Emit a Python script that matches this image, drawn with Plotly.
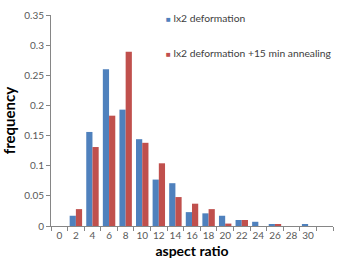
import plotly.graph_objects as go

categories = ["0", "2", "4", "6", "8", "10", "12", "14", "16", "18", "20", "22", "24", "26", "28", "30", "32"]
tick_labels = ["0", "2", "4", "6", "8", "10", "12", "14", "16", "18", "20", "22", "24", "26", "28", "30", ""]
deform = [0, 0.017, 0.156, 0.260, 0.193, 0.144, 0.077, 0.071, 0.023, 0.021, 0.017, 0.010, 0.007, 0.003, 0, 0.003, 0]
anneal = [0, 0.028, 0.131, 0.183, 0.289, 0.138, 0.104, 0.048, 0.037, 0.028, 0.004, 0.010, 0, 0.003, 0, 0, 0]
names = ["lx2 deformation", "lx2 deformation +15 min annealing"]
colors = ["#4F81BD", "#C0504D"]

FONT = "Lato, 'Open Sans', sans-serif"

fig = go.Figure()
for vals, name, col in zip([deform, anneal], names, colors):
    fig.add_trace(go.Bar(x=categories, y=vals, name=name, marker_color=col,
                         marker_line_width=0, showlegend=False))

fig.update_layout(
    width=341, height=270,
    margin=dict(l=47, r=8, t=8, b=44),
    paper_bgcolor="white", plot_bgcolor="white",
    barmode="group", bargap=0.25, bargroupgap=0,
    font=dict(family=FONT, size=10, color="#595959"),
)
fig.update_xaxes(
    type="category", categoryorder="array", categoryarray=categories,
    tickmode="array", tickvals=categories, ticktext=tick_labels, tickangle=0,
    tickson="boundaries", ticks="outside", ticklen=4, tickcolor="#868686",
    showline=True, linecolor="#868686", linewidth=1, showgrid=False,
    tickfont=dict(size=10, color="#595959"),
    title=dict(text="<b>aspect ratio</b>", font=dict(size=14, color="black", family=FONT), standoff=6),
)
fig.update_yaxes(
    range=[0, 0.35], dtick=0.05, tick0=0,
    ticks="outside", ticklen=4, tickcolor="#868686",
    showline=True, linecolor="#868686", linewidth=1, showgrid=False, zeroline=False,
    tickfont=dict(size=10, color="#595959"),
    title=dict(text="<b>frequency</b>", font=dict(size=15, color="black", family=FONT), standoff=6),
)

legend_y = [0.985, 0.82]
for name, col, yy in zip(names, colors, legend_y):
    fig.add_annotation(
        xref="paper", yref="paper", x=0.40, y=yy, xanchor="left", yanchor="middle",
        text=f"<span style='color:{col};font-size:8px'>■</span> {name}", showarrow=False,
        font=dict(size=10.3, color="#404040", family=FONT),
    )

fig.write_html("out.html")
